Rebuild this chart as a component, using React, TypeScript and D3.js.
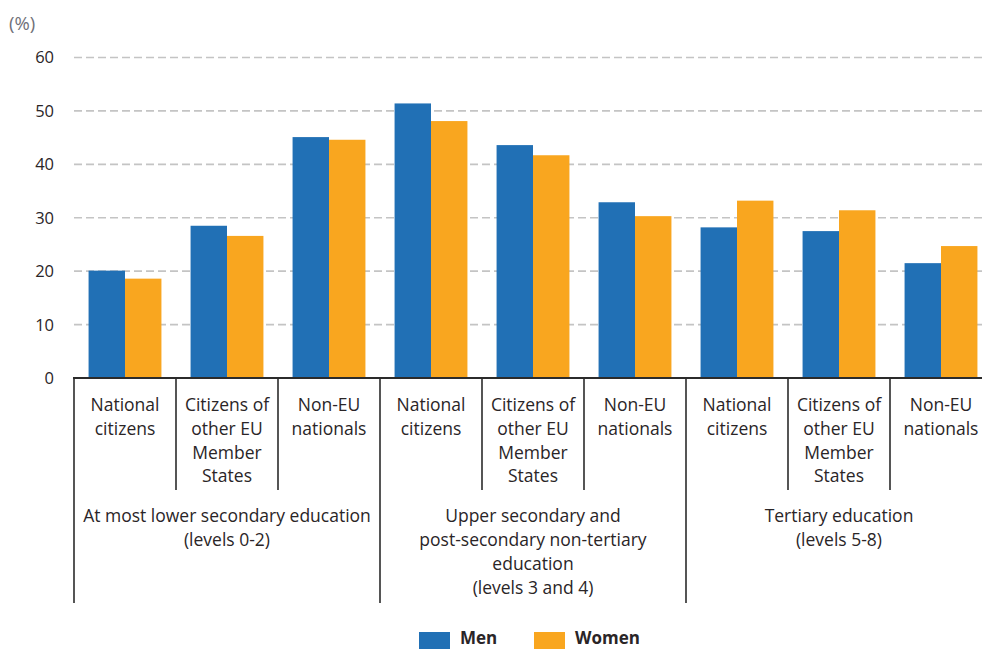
import React from "react";
import * as d3 from "d3";

const categories = [
  "National citizens|0",
  "Citizens of other EU Member States|0",
  "Non-EU nationals|0",
  "National citizens|1",
  "Citizens of other EU Member States|1",
  "Non-EU nationals|1",
  "National citizens|2",
  "Citizens of other EU Member States|2",
  "Non-EU nationals|2",
];
const categoryLines = [
  ["National", "citizens"],
  ["Citizens of", "other EU", "Member", "States"],
  ["Non-EU", "nationals"],
  ["National", "citizens"],
  ["Citizens of", "other EU", "Member", "States"],
  ["Non-EU", "nationals"],
  ["National", "citizens"],
  ["Citizens of", "other EU", "Member", "States"],
  ["Non-EU", "nationals"],
];
const groupLines = [
  ["At most lower secondary education", "(levels 0-2)"],
  ["Upper secondary and", "post-secondary non-tertiary", "education", "(levels 3 and 4)"],
  ["Tertiary education", "(levels 5-8)"],
];
const seriesNames = ["Men", "Women"];
const menValues = [20.1, 28.5, 45.1, 51.4, 43.6, 32.9, 28.2, 27.5, 21.5];
const womenValues = [18.6, 26.6, 44.6, 48.1, 41.7, 30.3, 33.2, 31.4, 24.7];
const yTicks = [0, 10, 20, 30, 40, 50, 60];

const COLORS: Record<string, string> = { Men: "#2170b5", Women: "#f9a61f" };
const FONT = "'Open Sans', 'Noto Sans', sans-serif";
const TEXT = "#2a2527";

export default function App() {
  const W = 982;
  const H = 649;
  const left = 74;
  const right = 992;
  const y0 = 378;

  const x = d3.scaleBand<string>().domain(categories).range([left, right]).paddingInner(0).paddingOuter(0);
  const xs = d3.scaleBand<string>().domain(seriesNames).range([0, x.bandwidth()]).paddingInner(0).paddingOuter(0.4);
  const y = d3.scaleLinear().domain([0, 60]).range([y0, 57.5]);

  const data = categories.map((c, i) => ({ c, Men: menValues[i], Women: womenValues[i] }));

  return (
    <svg
      width={W}
      height={H}
      style={{ position: "absolute", left: 0, top: 0, background: "#fff" }}
      fontFamily={FONT}
    >
      <text x={9} y={30} fontSize={18.5} fill="#707078">(%)</text>
      {/* gridlines */}
      {yTicks.filter((t) => t > 0).map((t) => (
        <line key={t} x1={left} x2={W} y1={y(t)} y2={y(t)} stroke="#c4c4c4" strokeWidth={1.6} strokeDasharray="8 4" />
      ))}
      {/* y tick labels */}
      {yTicks.map((t) => (
        <text key={t} x={54} y={y(t)} dy="0.36em" textAnchor="end" fontSize={16.5} fill={TEXT}>
          {t}
        </text>
      ))}
      {/* bars */}
      {data.map((d) =>
        seriesNames.map((s) => (
          <rect
            key={d.c + s}
            x={(x(d.c) ?? 0) + (xs(s) ?? 0)}
            width={xs.bandwidth()}
            y={y((d as any)[s])}
            height={y0 - y((d as any)[s])}
            fill={COLORS[s]}
          />
        ))
      )}
      {/* axis baseline */}
      <line x1={left - 1} x2={W} y1={y0} y2={y0} stroke="#2b2b2b" strokeWidth={2} />
      {/* separators */}
      {categories.map((c, i) => {
        const xx = x(c) ?? 0;
        const major = i % 3 === 0;
        return (
          <line key={"sep" + c} x1={xx} x2={xx} y1={y0} y2={major ? 603 : 490} stroke="#2b2b2b" strokeWidth={1.6} />
        );
      })}
      <line x1={right} x2={right} y1={y0} y2={603} stroke="#2b2b2b" strokeWidth={1.6} />
      {/* category labels */}
      {categories.map((c, i) => {
        const cx = (x(c) ?? 0) + x.bandwidth() / 2;
        return (
          <text key={"lab" + c} textAnchor="middle" fontSize={17.5} fill={TEXT}>
            {categoryLines[i].map((ln, j) => (
              <tspan key={j} x={cx} y={411 + j * 23.8}>
                {ln}
              </tspan>
            ))}
          </text>
        );
      })}
      {/* group labels */}
      {groupLines.map((lines, g) => {
        const cx = (x(categories[g * 3]) ?? 0) + (x.bandwidth() * 3) / 2;
        return (
          <text key={"g" + g} textAnchor="middle" fontSize={17.5} fill={TEXT}>
            {lines.map((ln, j) => (
              <tspan key={j} x={cx} y={521.5 + j * 24.3}>
                {ln}
              </tspan>
            ))}
          </text>
        );
      })}
      {/* legend */}
      {seriesNames.map((s, i) => {
        const lx = i === 0 ? 419 : 534;
        return (
          <g key={"leg" + s}>
            <rect x={lx} y={632} width={31} height={20} fill={COLORS[s]} />
            <text x={lx + 41} y={644} fontSize={17} fontWeight="bold" fill={TEXT}>
              {s}
            </text>
          </g>
        );
      })}
    </svg>
  );
}
